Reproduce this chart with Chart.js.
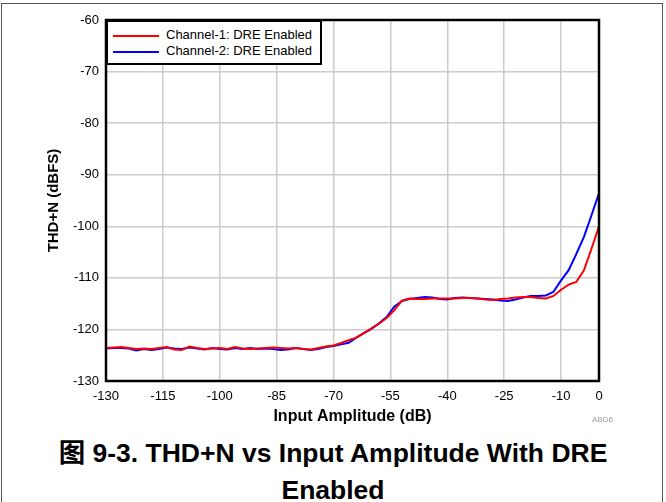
<!DOCTYPE html>
<html>
<head>
<meta charset="utf-8">
<script src="https://cdn.jsdelivr.net/npm/chart.js@4"></script>
<style>
  body { margin: 0; background: #fff; font-family: "Liberation Sans", Arial, sans-serif; }
  #wrap { position: relative; width: 666px; height: 502px; overflow: hidden; background: #fff; }
  #frame { position: absolute; left: 1px; top: 3px; width: 660px; height: 530px; border: 1px solid #555; }
  #box { position: absolute; left: 0; top: 0; width: 666px; height: 432px; }
  #legend { position: absolute; left: 106px; top: 20px; width: 216px; height: 45px; box-sizing: border-box;
            border: 2px solid #000; background: #fff; font-size: 13px; color: #000; }
  .row { position: absolute; left: 5px; height: 16px; line-height: 16px; white-space: nowrap; }
  .row span.ln { display: inline-block; width: 46px; height: 2px; vertical-align: middle; margin-right: 7px; }
  #code { position: absolute; left: 592px; top: 415px; font-size: 8px; color: #999; }
  #caption { position: absolute; left: 0; top: 435px; width: 666px; text-align: center; font-weight: bold;
             font-size: 26.5px; line-height: 37px; font-family: "Liberation Sans", "Noto Sans CJK SC", sans-serif; color: #000; }
</style>
</head>
<body>
<div id="wrap">
  <div id="frame"></div>
  <div id="box"><canvas id="thdChart" width="666" height="432"></canvas></div>
  <div id="legend"></div>
  <div id="code">ABD6</div>
  <div id="caption">图 9-3. THD+N vs Input Amplitude With DRE<br>Enabled</div>
</div>
<script>
// input amplitude (dB)
const inputAmp = [-130, -128, -126, -124, -122, -120, -118, -116, -114, -112, -110, -108, -106, -104,
  -102, -100, -98, -96, -94, -92, -90, -88, -86, -84, -82, -80, -78, -76, -74, -72, -70, -68, -66,
  -64, -62, -60, -58, -56, -54, -52, -50, -48, -46, -44, -42, -40, -38, -36, -34, -32, -30, -28,
  -26, -24, -22, -20, -18, -16, -14, -12, -10, -8, -6, -4, -2, 0];

// THD+N (dBFS)
const ch1Values = [-123.6, -123.5, -123.4, -123.6, -123.8, -123.7, -123.8, -123.6, -123.4, -123.9,
  -124.0, -123.3, -123.6, -123.8, -123.7, -123.6, -123.8, -123.4, -123.7, -123.8, -123.7, -123.6,
  -123.5, -123.6, -123.7, -123.6, -123.8, -123.9, -123.6, -123.3, -123.1, -122.6, -122.1, -121.6,
  -120.7, -119.8, -118.9, -117.8, -116.3, -114.4, -114.0, -114.1, -114.1, -114.0, -114.0, -114.0,
  -114.0, -113.9, -113.9, -114.0, -114.2, -114.3, -114.1, -114.0, -113.8, -113.7, -113.7, -113.9,
  -114.0, -113.5, -112.3, -111.3, -110.8, -108.6, -104.4, -100.0];

const ch2Values = [-123.7, -123.6, -123.6, -123.7, -124.1, -123.8, -124.0, -123.8, -123.5, -123.7,
  -123.8, -123.5, -123.7, -123.9, -123.6, -123.8, -123.9, -123.6, -123.8, -123.6, -123.8, -123.7,
  -123.8, -124.0, -123.9, -123.6, -123.8, -124.0, -123.8, -123.4, -123.2, -122.9, -122.6, -121.6,
  -120.7, -119.9, -118.8, -117.6, -115.6, -114.5, -114.1, -113.9, -113.7, -113.8, -114.1, -114.2,
  -113.9, -113.8, -113.9, -114.0, -114.1, -114.2, -114.4, -114.5, -114.2, -113.8, -113.5, -113.5,
  -113.4, -112.7, -110.5, -108.5, -105.4, -102.1, -97.9, -93.6];

const seriesNames = ["Channel-1: DRE Enabled", "Channel-2: DRE Enabled"];
const seriesColors = ["#ff0000", "#0000ff"];
const xTicks = [-130, -115, -100, -85, -70, -55, -40, -25, -10, 0];
const yTicks = [-130, -120, -110, -100, -90, -80, -70, -60];

const tickFont = { family: "'Liberation Sans', Arial, sans-serif", size: 13 };
const titleFont = { family: "'Liberation Sans', Arial, sans-serif", size: 16, weight: "bold" };

// draw the plot frame on all four sides
const frameBox = {
  id: "frameBox",
  afterDatasetsDraw(chart) {
    const { ctx, chartArea: a } = chart;
    ctx.save();
    ctx.strokeStyle = "#000";
    ctx.lineWidth = 2.5;
    ctx.strokeRect(a.left, a.top, a.right - a.left, a.bottom - a.top);
    ctx.restore();
  }
};

function toPoints(values) {
  return values.map((v, i) => ({ x: inputAmp[i], y: v }));
}

const ctx = document.getElementById("thdChart").getContext("2d");
new Chart(ctx, {
  type: "line",
  data: {
    datasets: [ch1Values, ch2Values].map((vals, i) => ({
      label: seriesNames[i],
      data: toPoints(vals),
      borderColor: seriesColors[i],
      backgroundColor: seriesColors[i],
      borderWidth: 2,
      pointRadius: 0,
      tension: 0,
      fill: false
    }))
  },
  options: {
    responsive: false,
    animation: false,
    layout: { padding: { left: 0, right: 67, top: 20, bottom: 0 } },
    plugins: { legend: { display: false }, tooltip: { enabled: false } },
    scales: {
      x: {
        type: "linear",
        min: -130,
        max: 0,
        afterBuildTicks: (scale) => { scale.ticks = xTicks.map(v => ({ value: v })); },
        afterFit: (scale) => { scale.height = 51; },
        ticks: { color: "#000", font: tickFont, padding: 8, maxRotation: 0 },
        grid: { color: "#cccccc", lineWidth: 1.5, drawTicks: false },
        border: { display: false },
        title: { display: true, text: "Input Amplitude (dB)", color: "#000", font: titleFont, padding: { top: 0, bottom: 6 } }
      },
      y: {
        min: -130,
        max: -60,
        afterBuildTicks: (scale) => { scale.ticks = yTicks.map(v => ({ value: v })); },
        afterFit: (scale) => { scale.width = 106; },
        ticks: { color: "#000", font: tickFont, padding: 7 },
        grid: { color: "#cccccc", lineWidth: 1.5, drawTicks: false },
        border: { display: false },
        title: { display: true, text: "THD+N (dBFS)", color: "#000", font: { ...titleFont, size: 15 }, padding: { top: 45, bottom: 0 } }
      }
    }
  },
  plugins: [frameBox]
});

// legend box built from the series names and colours
const legend = document.getElementById("legend");
seriesNames.forEach((name, i) => {
  const row = document.createElement("div");
  row.className = "row";
  row.style.top = (5 + i * 16) + "px";
  row.innerHTML = '<span class="ln" style="background:' + seriesColors[i] + '"></span>' + name;
  legend.appendChild(row);
});
</script>
</body>
</html>
